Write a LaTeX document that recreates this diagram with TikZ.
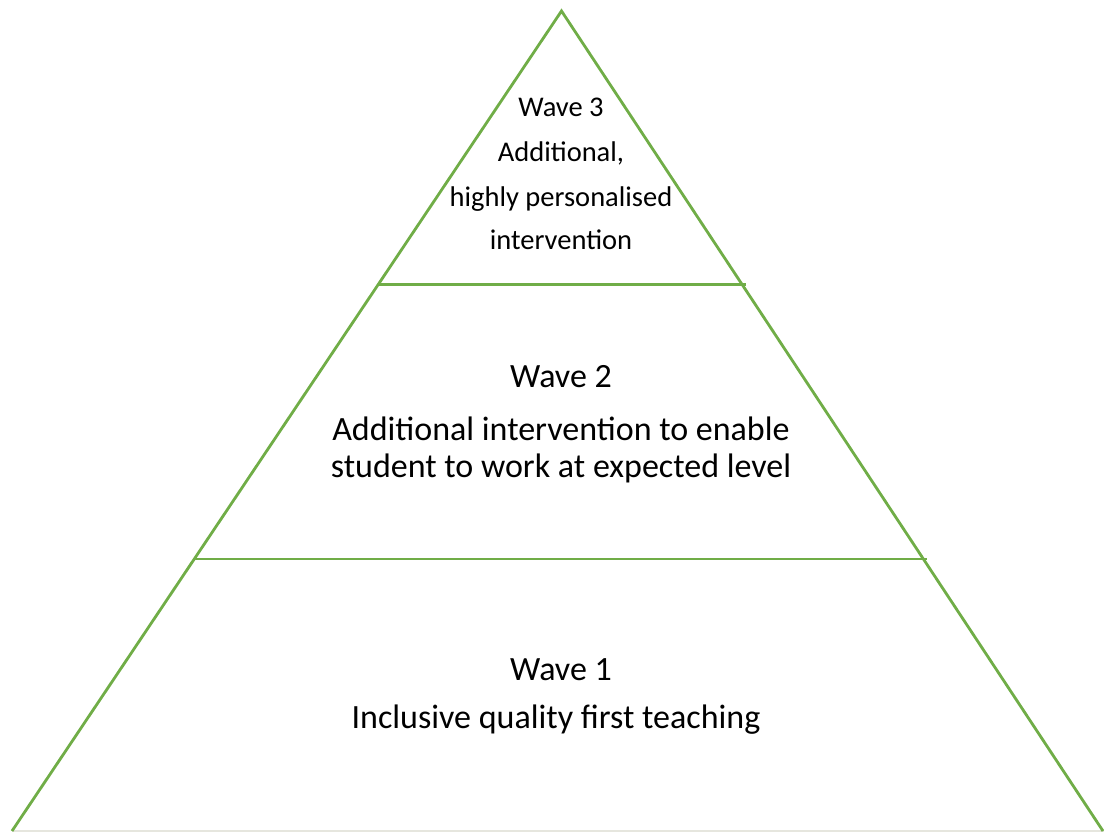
\documentclass[tikz,border=0pt]{standalone}
\usepackage{fontspec}
\setmainfont{Carlito}
\definecolor{wavegreen}{HTML}{70AD47}
\definecolor{basegrey}{HTML}{E6E6DE}

\begin{document}
\begin{tikzpicture}[x=1pt,y=-1pt,
    tierline/.style={draw=wavegreen, line width=2.8pt},
    bigtext/.style={anchor=base, font=\fontsize{34}{40}\selectfont},
    smalltext/.style={anchor=base, font=\fontsize{28.5}{34}\selectfont}]
    \useasboundingbox (0,0) rectangle (1104,832);
    \coordinate (T) at (561.5,11);
    \coordinate (L) at (12,831);
    \coordinate (R) at (1103,831);
    \coordinate (E) at (1104,831);
    \coordinate (L3) at (378,284.5);
    \coordinate (R3) at (746,284.5);
    \coordinate (L2) at (194.5,559);
    \coordinate (R2) at (927,559);
    % base of the pyramid
    \draw [draw=basegrey, line width=2pt] (L) -- (E);
    % outline and tiers
    \draw [tierline, line join=miter] (L) -- (T) -- (R);
    \draw [tierline] (L3) -- (R3);
    \draw [tierline] (L2) -- (R2);
    % wave 3
    \node [smalltext] (w3a) at (561,117) {Wave 3};
    \node [smalltext] (w3b) at (561,162) {Additional,};
    \node [smalltext] (w3c) at (561,207) {highly personalised};
    \node [smalltext] (w3d) at (561,250) {intervention};
    % wave 2
    \node [bigtext] (w2a) at (561,387) {Wave 2};
    \node [bigtext] (w2b) at (561,440) {Additional intervention to enable};
    \node [bigtext] (w2c) at (561,477) {student to work at expected level};
    % wave 1
    \node [bigtext] (w1a) at (561,680) {Wave 1};
    \node [bigtext] (w1b) at (556,728) {Inclusive quality first teaching};
\end{tikzpicture}
\end{document}
